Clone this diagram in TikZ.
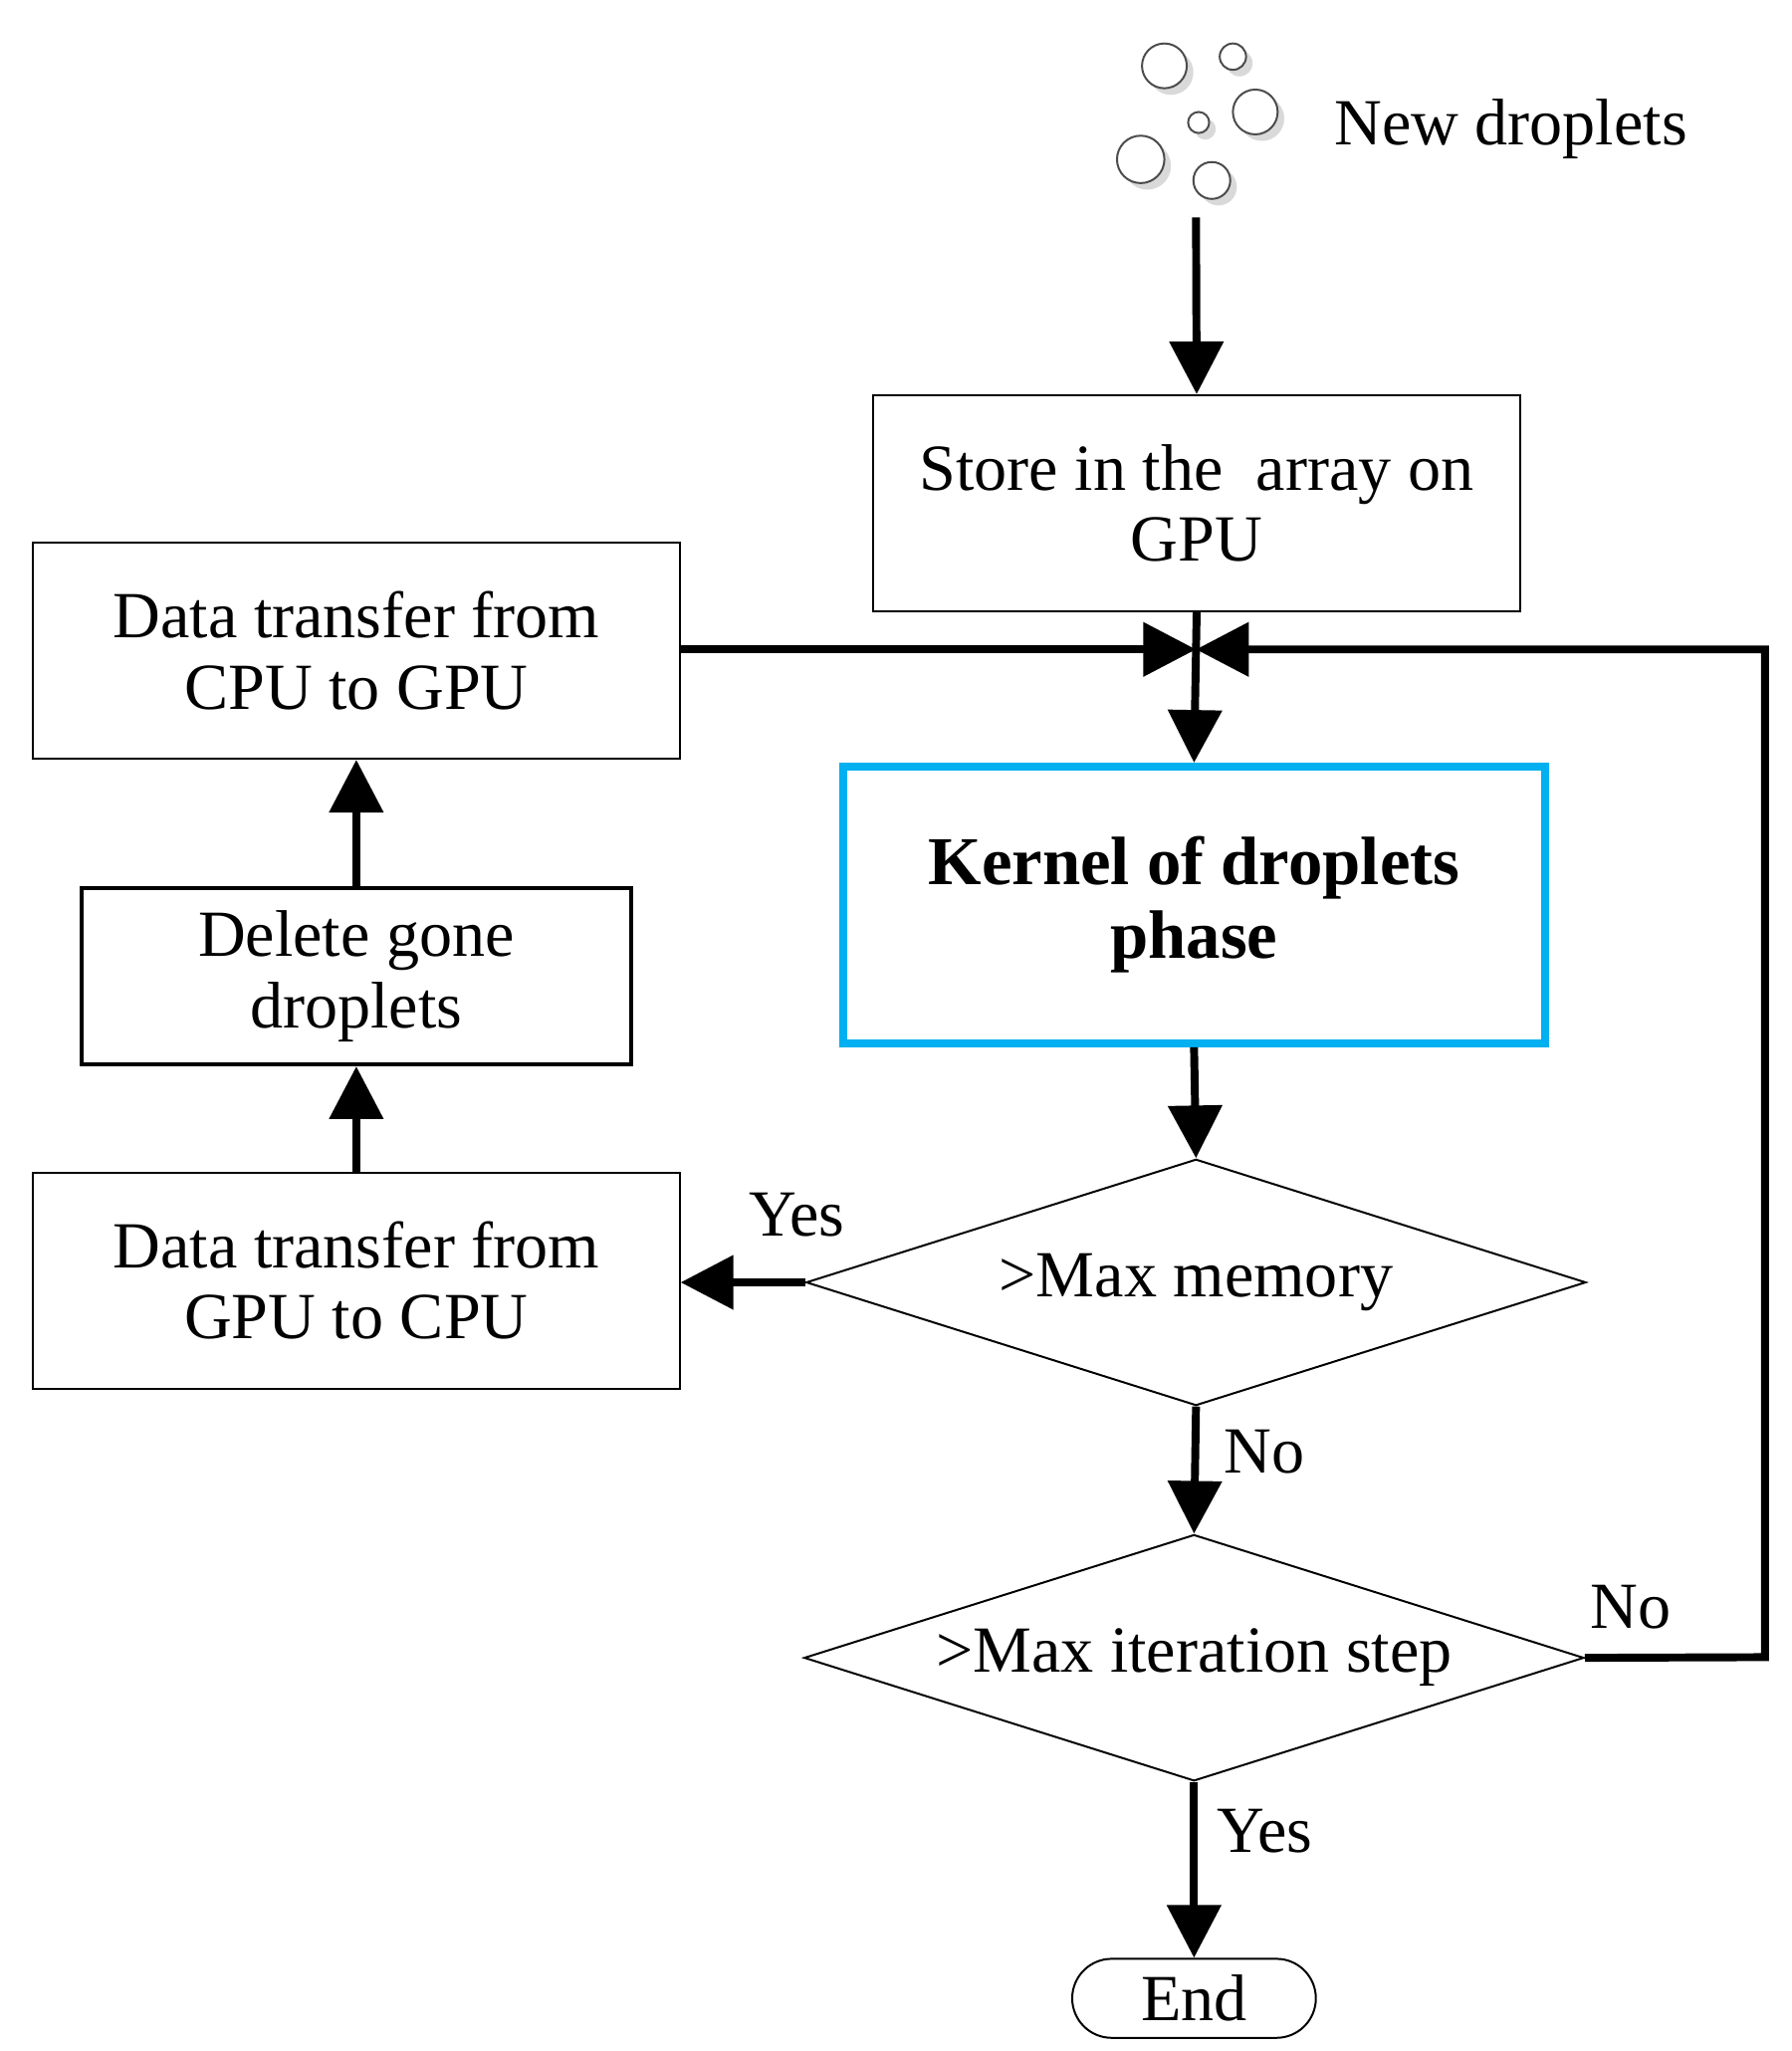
\documentclass[tikz,border=0pt]{standalone}
\usepackage{fontspec}
\setmainfont{Liberation Serif}
\usetikzlibrary{arrows.meta,shapes.geometric}
\definecolor{kcyan}{RGB}{0,176,240}
\begin{document}
\begin{tikzpicture}[x=1pt,y=-1pt,
  every node/.style={font=\fontsize{50}{54}\selectfont,align=center},
  box/.style={draw,line width=1.5pt,minimum width=491pt,minimum height=164pt,inner sep=0pt},
  dia/.style={draw,diamond,line width=1.5pt,minimum width=592pt,minimum height=187pt,aspect=3.16,inner sep=0pt},
  flow/.style={line width=6pt,-{Triangle[length=40pt,width=40pt]}},
  lbl/.style={inner sep=0pt},
  drop/.style={draw=black!70,line width=1.5pt,fill=white},
  shade/.style={fill=black!15,draw=none}]
  \useasboundingbox (0,0) rectangle (1360,1557);

  % droplets
  \foreach \x/\y/\r in {884/50/17,936/43/10,953/85/17,910/93/8,866/121/18,920/137/14}{
    \fill[shade] (\x+5,\y+5) circle (\r);
    \draw[drop] (\x,\y) circle (\r);
  }
  \node[lbl] (new) at (1147,98) {New droplets};
  \coordinate (src) at (908,165);

  \node[box] (store) at (908.5,382) {Store in the\ \ array on\\GPU};
  \node[box] (c2g) at (270.5,494) {Data transfer from\\CPU to GPU};
  \node[draw=kcyan,line width=6pt,minimum width=533pt,minimum height=210pt,
        inner sep=0pt,font=\fontsize{52}{56}\selectfont\bfseries] (kernel) at (906.5,687) {Kernel of droplets\\phase};
  \node[draw,line width=3pt,minimum width=417pt,minimum height=134pt,inner sep=0pt] (del) at (270.5,741) {Delete gone\\droplets};
  \node[box] (g2c) at (270.5,972) {Data transfer from\\GPU to CPU};
  \node[dia] (mem) at (908,973.5) {>Max memory};
  \node[dia] (iter) at (906.5,1258.5) {>Max iteration step};
  \node[draw,line width=1.5pt,rounded corners=30pt,minimum width=185pt,minimum height=60pt,inner sep=0pt] (end) at (906.5,1517) {End};

  \coordinate (join) at (908,493);
  \coordinate (loopR) at (1340,1258);
  \coordinate (loopT) at (1340,493);

  \draw[flow] (src) -- (store.north);
  \draw[flow] (store.south) -- (kernel.north);
  \draw[flow] (c2g.east |- join) -- (join);
  \draw[flow] (iter.east) -- (loopR) -- (loopT) -- (join);
  \draw[flow] (kernel.south) -- (mem.north);
  \draw[flow] (mem.west) -- (g2c.east |- mem.west);
  \draw[flow] (g2c.north) -- (del.south);
  \draw[flow] (del.north) -- (c2g.south);
  \draw[flow] (mem.south) -- (iter.north);
  \draw[flow] (iter.south) -- (end.north);

  \node[lbl] at (605,922) {Yes};
  \node[lbl] at (960,1102) {No};
  \node[lbl] at (1238,1220) {No};
  \node[lbl] at (960,1390) {Yes};
\end{tikzpicture}
\end{document}
